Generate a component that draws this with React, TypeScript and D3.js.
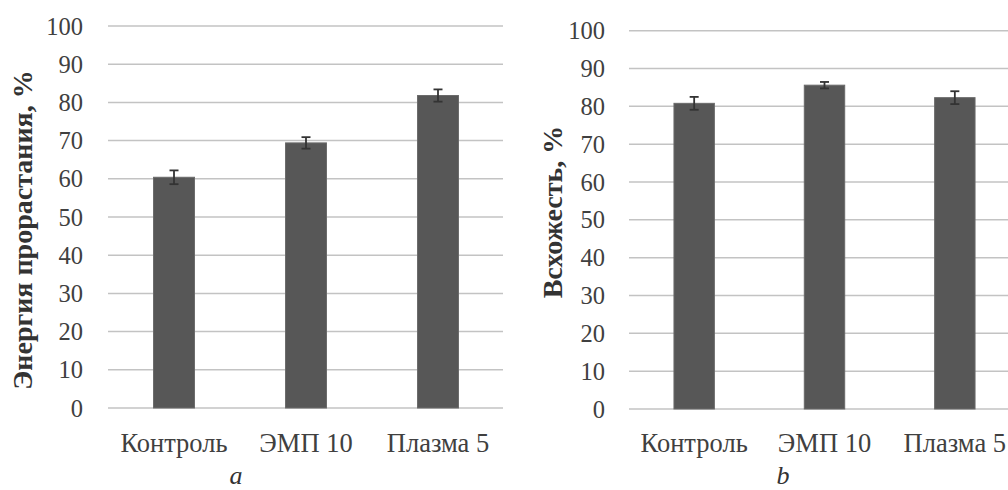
import React from "react";
import * as d3 from "d3";

const categories = ["Контроль", "ЭМП 10", "Плазма 5"];
const energyValues = [60.4, 69.4, 81.8];
const energyErrors = [1.8, 1.5, 1.6];
const germValues = [80.8, 85.6, 82.3];
const germErrors = [1.7, 0.85, 1.7];
const yTicks = [0, 10, 20, 30, 40, 50, 60, 70, 80, 90, 100];

const FONT = "'Liberation Serif', 'Times New Roman', serif";
const TEXT = "#404040";

type PanelProps = {
  values: number[];
  errors: number[];
  x0: number;
  x1: number;
  yBottom: number;
  yTop: number;
  tickRight: number;
  gridEnd: number;
  label: string;
  labelX: number;
  labelY: number;
  letter: string;
  letterX: number;
};

function Panel(p: PanelProps) {
  const x = d3.scaleBand<string>().domain(categories).range([p.x0, p.x1]).paddingInner(0.69).paddingOuter(0.345);
  const y = d3.scaleLinear().domain([0, 100]).range([p.yBottom, p.yTop]);
  return (
    <g>
      {yTicks.map((t) => (
        <g key={t}>
          <line x1={p.x0} x2={p.gridEnd} y1={y(t)} y2={y(t)} stroke="#c3c3c3" strokeWidth={1.5} />
          <text x={p.tickRight} y={y(t)} dy="0.35em" textAnchor="end" fontSize={24.5} fontFamily={FONT} fill={TEXT}>
            {t}
          </text>
        </g>
      ))}
      {categories.map((c, i) => {
        const bx = x(c)!;
        const cx = bx + x.bandwidth() / 2;
        const v = p.values[i];
        const e = p.errors[i];
        return (
          <g key={c}>
            <rect x={bx} y={y(v)} width={x.bandwidth()} height={y(0) - y(v)} fill="#575757" stroke="#6a6a6a" strokeWidth={1} />
            <line x1={cx} x2={cx} y1={y(v + e)} y2={y(v - e)} stroke="#333" strokeWidth={1.8} />
            <line x1={cx - 4.5} x2={cx + 4.5} y1={y(v + e)} y2={y(v + e)} stroke="#333" strokeWidth={1.8} />
            <line x1={cx - 4.5} x2={cx + 4.5} y1={y(v - e)} y2={y(v - e)} stroke="#333" strokeWidth={1.8} />
            <text x={cx} y={452} textAnchor="middle" fontSize={26.5} fontFamily={FONT} fill={TEXT}>
              {c}
            </text>
          </g>
        );
      })}
      <text
        transform={`translate(${p.labelX},${p.labelY}) rotate(-90)`}
        textAnchor="middle"
        dy="0.35em"
        fontSize={28}
        fontWeight="bold"
        fontFamily={FONT}
        fill="#333"
      >
        {p.label}
      </text>
      <text x={p.letterX} y={484} textAnchor="middle" fontSize={26} fontStyle="italic" fontFamily={FONT} fill="#333">
        {p.letter}
      </text>
    </g>
  );
}

export default function App() {
  return (
    <svg width={1008} height={490} style={{ position: "absolute", left: 0, top: 0, background: "#fff" }}>
      <rect width={1008} height={490} fill="#fff" />
      <Panel
        values={energyValues}
        errors={energyErrors}
        x0={108}
        x1={504}
        yBottom={408}
        yTop={26}
        tickRight={83}
        gridEnd={503}
        label="Энергия прорастания, %"
        labelX={22}
        labelY={230}
        letter="a"
        letterX={236}
      />
      <Panel
        values={germValues}
        errors={germErrors}
        x0={629}
        x1={1020}
        yBottom={409}
        yTop={30.7}
        tickRight={605}
        gridEnd={1008}
        label="Всхожесть, %"
        labelX={552}
        labelY={212}
        letter="b"
        letterX={783}
      />
    </svg>
  );
}
